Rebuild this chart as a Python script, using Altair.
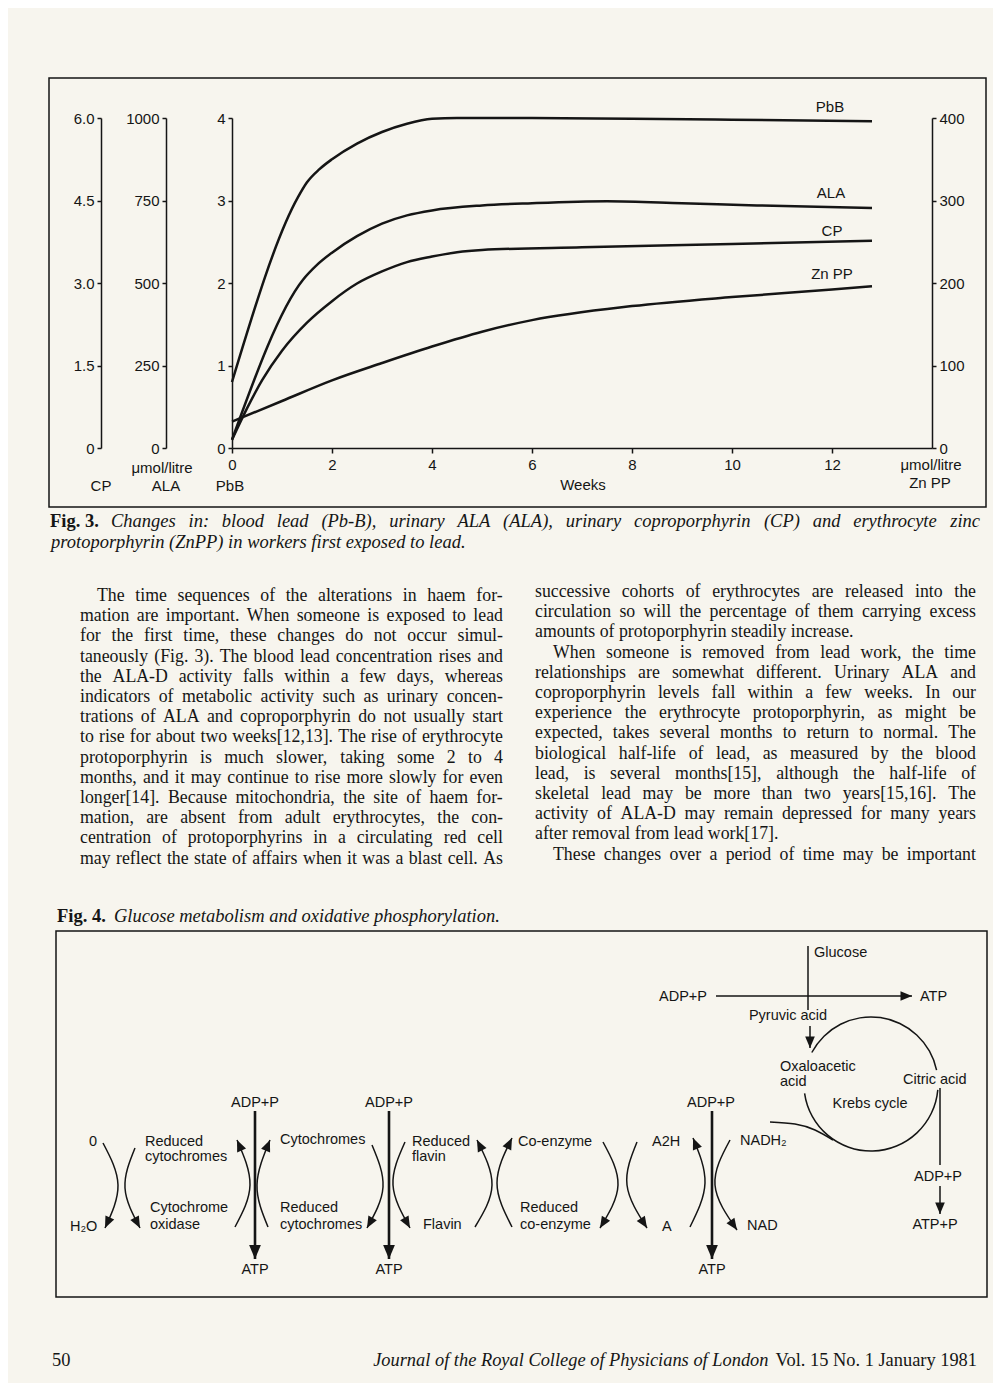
import math
import altair as alt
import pandas as pd

INK = "#151515"
BG = "#f7f5ee"
SANS = "Liberation Sans"
SERIF = "Liberation Serif"

# ---------------- Fig. 3 data ----------------
pbb_weeks = [0, 1.32, 1.5, 1.75, 2.0, 2.5, 3.0, 3.5, 4.0, 4.5, 6, 8, 10, 12.8]
pbb_vals = [0.8, 3.04, 3.22, 3.38, 3.50, 3.69, 3.83, 3.93, 3.99, 4.0, 4.0, 3.99, 3.98, 3.96]   # PbB axis units

ala_weeks = [0, 1.42, 1.7, 2.0, 2.5, 3.0, 3.5, 4.0, 5.0, 6.0, 7.5, 9.0, 10.5, 12.8]
ala_vals = [25, 510, 555, 592, 642, 680, 705, 720, 735, 742, 748, 742, 735, 727]            # umol/litre

cp_weeks = [0, 0.3, 0.6, 1.0, 1.5, 2.0, 2.5, 3.0, 3.5, 4.0, 4.5, 5.0, 7.0, 10.0, 12.8]
cp_vals = [0.15, 0.72, 1.23, 1.77, 2.28, 2.67, 2.99, 3.21, 3.38, 3.48, 3.56, 3.6, 3.65, 3.71, 3.77]

znpp_weeks = [0, 1, 2, 3, 4, 5, 6, 8, 10, 12, 12.8]
znpp_vals = [32, 57, 82, 103, 123, 141, 155, 172, 183, 192, 196]                            # umol/litre

week_ticks = [0, 2, 4, 6, 8, 10, 12]
pbb_ticks = [0, 1, 2, 3, 4]
ala_ticks = [0, 250, 500, 750, 1000]
cp_ticks = [0, 1.5, 3.0, 4.5, 6.0]
znpp_ticks = [0, 100, 200, 300, 400]

series_names = ["PbB", "ALA", "CP", "Zn PP"]

# ---------------- page text ----------------
caption3_line1 = "Changes in: blood lead (Pb-B), urinary ALA (ALA), urinary coproporphyrin (CP) and erythrocyte zinc"
caption3_line2 = "protoporphyrin (ZnPP) in workers first exposed to lead."
caption4 = "Glucose metabolism and oxidative phosphorylation."
footer_italic = "Journal of the Royal College of Physicians of London"
footer_roman = "Vol. 15 No. 1 January 1981"

left_lines = [
    "The time sequences of the alterations in haem for-",
    "mation are important. When someone is exposed to lead",
    "for the first time, these changes do not occur simul-",
    "taneously (Fig. 3). The blood lead concentration rises and",
    "the ALA-D activity falls within a few days, whereas",
    "indicators of metabolic activity such as urinary concen-",
    "trations of ALA and coproporphyrin do not usually start",
    "to rise for about two weeks[12,13]. The rise of erythrocyte",
    "protoporphyrin is much slower, taking some 2 to 4",
    "months, and it may continue to rise more slowly for even",
    "longer[14]. Because mitochondria, the site of haem for-",
    "mation, are absent from adult erythrocytes, the con-",
    "centration of protoporphyrins in a circulating red cell",
    "may reflect the state of affairs when it was a blast cell. As",
]
right_lines = [
    "successive cohorts of erythrocytes are released into the",
    "circulation so will the percentage of them carrying excess",
    "amounts of protoporphyrin steadily increase.",
    "When someone is removed from lead work, the time",
    "relationships are somewhat different. Urinary ALA and",
    "coproporphyrin levels fall within a few weeks. In our",
    "experience the erythrocyte protoporphyrin, as might be",
    "expected, takes several months to return to normal. The",
    "biological half-life of lead, as measured by the blood",
    "lead, is several months[15], although the half-life of",
    "skeletal lead may be more than two years[15,16]. The",
    "activity of ALA-D may remain depressed for many years",
    "after removal from lead work[17].",
    "These changes over a period of time may be important",
]

# glyph advance widths (per 1000 em) of the Times-metric Liberation Serif, for justification
TR = dict(zip("abcdefghijklmnopqrstuvwxyz",
              [444, 500, 444, 500, 444, 333, 500, 500, 278, 278, 500, 278, 778, 500, 500, 500, 500, 333, 389, 278, 500, 500, 722, 500, 500, 444]))
TR.update(zip("ABCDEFGHIJKLMNOPQRSTUVWXYZ",
              [722, 667, 667, 722, 611, 556, 722, 722, 333, 389, 722, 611, 889, 722, 722, 556, 722, 667, 556, 611, 722, 722, 944, 722, 722, 611]))
TR.update({c: 500 for c in "0123456789"})
TR.update({" ": 250, ".": 250, ",": 250, ":": 278, ";": 278, "-": 333, "(": 333, ")": 333, "[": 333, "]": 333})
TI = dict(zip("abcdefghijklmnopqrstuvwxyz",
              [500, 500, 444, 500, 444, 278, 500, 500, 278, 278, 444, 278, 722, 500, 500, 500, 500, 389, 389, 278, 500, 444, 667, 444, 444, 389]))
TI.update(zip("ABCDEFGHIJKLMNOPQRSTUVWXYZ",
              [611, 611, 667, 722, 611, 611, 722, 722, 333, 444, 667, 556, 833, 667, 722, 611, 722, 611, 500, 556, 722, 611, 833, 611, 556, 556]))
TI.update({c: 500 for c in "0123456789"})
TI.update({" ": 250, ".": 250, ",": 250, ":": 333, ";": 333, "-": 333, "(": 333, ")": 333, "[": 389, "]": 389})


def tw(s, table, size):
    return sum(table.get(ch, 500) for ch in s) / 1000.0 * size


def justify(line, x0, x1, y, size, table):
    words = line.split(" ")
    ws = [tw(w, table, size) for w in words]
    gap = (x1 - x0 - sum(ws)) / max(1, len(words) - 1)
    rows, x = [], x0
    for w, wd in zip(words, ws):
        rows.append((w, x, y))
        x += wd + gap
    return rows


# ---------------- layout ----------------
W, H = 700, 330
PAD = {"left": 224, "top": 110, "right": 61, "bottom": 935}
PX = alt.Scale(domain=[0, 1001], range=[-232, 769], nice=False, zero=False)
PY = alt.Scale(domain=[0, 1391], range=[-118, 1273], nice=False, zero=False)


def P():
    return dict(x=alt.X("x:Q", scale=PX, axis=None), y=alt.Y("y:Q", scale=PY, axis=None))


def text_layer(rows, font, size, style="normal", weight="normal", align="left"):
    df = pd.DataFrame(rows, columns=["t", "x", "y"])
    return alt.Chart(df).mark_text(
        font=font, fontSize=size, fontStyle=style, fontWeight=weight,
        align=align, baseline="middle", color=INK
    ).encode(text="t:N", **P())


def ax(**kw):
    base = dict(domainColor=INK, tickColor=INK, labelColor=INK, labelFont=SANS,
                labelFontSize=15, domainWidth=1.5, tickWidth=1.5, grid=False,
                title=None, labelFlush=False, labelOverlap=False, tickSize=4, labelPadding=3)
    base.update(kw)
    return alt.Axis(**base)


def series(weeks, vals, ydom, yaxis, xaxis=None):
    df = pd.DataFrame({"week": weeks, "value": vals})
    return alt.Chart(df).mark_line(color=INK, strokeWidth=2.5, interpolate="monotone").encode(
        x=alt.X("week:Q", scale=alt.Scale(domain=[0, 14], nice=False, zero=False), axis=xaxis),
        y=alt.Y("value:Q", scale=alt.Scale(domain=ydom, nice=False, zero=False), axis=yaxis),
    )


layers = []

# the four curves, each on its own axis
layers.append(series(pbb_weeks, pbb_vals, [0, 4],
                     ax(orient="left", values=pbb_ticks, format="d", offset=0),
                     ax(orient="bottom", values=week_ticks, format="d", tickSize=5, labelPadding=4)))
layers.append(series(ala_weeks, ala_vals, [0, 1000], ax(orient="left", values=ala_ticks, format="d", offset=66)))
layers.append(series(cp_weeks, cp_vals, [0, 6],
                     ax(orient="left", values=cp_ticks, offset=131,
                        labelExpr="datum.value == 0 ? '0' : format(datum.value, '.1f')")))
layers.append(series(znpp_weeks, znpp_vals, [0, 400], ax(orient="right", values=znpp_ticks, format="d", offset=0)))

# frames
boxes = pd.DataFrame({"x": [49, 56], "x2": [986, 987], "y": [78, 931], "y2": [507, 1297]})
layers.append(alt.Chart(boxes).mark_rect(filled=False, stroke=INK, strokeWidth=1.5).encode(
    x2="x2:Q", y2="y2:Q", **P()))

# chart annotations
layers.append(text_layer([
    (series_names[0], 830, 107), (series_names[1], 831, 193), (series_names[2], 832, 231),
    (series_names[3], 832, 274),
    ("CP", 101, 486), ("\u03bcmol/litre", 162, 468), ("ALA", 166, 486), ("PbB", 230, 486),
    ("Weeks", 583, 485), ("\u03bcmol/litre", 931, 465), ("Zn PP", 930, 483),
], SANS, 15, align="center"))

# captions
CAP = 18.5
layers.append(text_layer([("Fig. 3.", 50, 521), ("Fig. 4.", 57, 916)], SERIF, CAP, weight="bold"))
cap_rows = justify(caption3_line1, 111, 980, 521, CAP, TI)
cap_rows += [(caption3_line2, 51, 542), (caption4, 114, 916)]
layers.append(text_layer(cap_rows, SERIF, CAP, style="italic"))

# body text (justified columns)
BODY = 17.8
body = []
for i, s in enumerate(left_lines):
    body += justify(s, 97 if i == 0 else 80, 503, 596 + 20.2 * i, BODY, TR)
for i, s in enumerate(right_lines):
    x0 = 553 if i in (3, 13) else 535
    y = 592 + 20.2 * i
    if i in (2, 12):
        body.append((s, x0, y))
    else:
        body += justify(s, x0, 976, y, BODY, TR)
layers.append(text_layer(body, SERIF, BODY))

# footer
FOOT = 18.4
layers.append(text_layer([("50", 52, 1360)], SERIF, FOOT))
layers.append(text_layer([(footer_roman, 977, 1360)], SERIF, FOOT, align="right"))
layers.append(text_layer([(footer_italic, 977 - tw(footer_roman + " ", TR, FOOT), 1360)], SERIF, FOOT,
                         style="italic", align="right"))

# ---------------- Fig. 4 diagram ----------------
DG = 14.5
layers.append(text_layer([
    ("ADP+P", 255, 1103), ("ATP", 255, 1270), ("ADP+P", 389, 1103), ("ATP", 389, 1270),
    ("ADP+P", 711, 1103), ("ATP", 712, 1270), ("Pyruvic acid", 788, 1016), ("Krebs cycle", 870, 1104),
    ("ADP+P", 938, 1177), ("ATP+P", 935, 1225),
], SANS, DG, align="center"))
layers.append(text_layer([
    ("Glucose", 814, 953), ("ADP+P", 659, 997), ("ATP", 920, 997), ("Oxaloacetic", 780, 1067),
    ("acid", 780, 1082), ("Citric acid", 903, 1080), ("A2H", 652, 1142), ("A", 662, 1227),
    ("NADH\u2082", 740, 1141), ("NAD", 747, 1226), ("Reduced", 412, 1142), ("flavin", 412, 1157),
    ("Flavin", 423, 1225), ("Co-enzyme", 518, 1142), ("Reduced", 520, 1208), ("co-enzyme", 520, 1225),
    ("0", 89, 1142), ("H\u2082O", 70, 1227), ("Reduced", 145, 1142), ("cytochromes", 145, 1157),
    ("Cytochrome", 150, 1208), ("oxidase", 150, 1225), ("Cytochromes", 280, 1140),
    ("Reduced", 280, 1208), ("cytochromes", 280, 1225),
], SANS, DG))

HEAD = "M0,0L0.42,1L-0.42,1Z"


def ang(dx, dy):
    return math.degrees(math.atan2(dx, -dy)) % 360


# straight arrows: x1, y1, x2, y2, width, head?
straight = [
    (808, 946, 808, 1010, 1.5, False),
    (716, 996, 912, 996, 1.5, True),
    (810, 1026, 810, 1048, 1.5, True),
    (940, 1088, 940, 1165, 1.5, False),
    (940, 1186, 940, 1214, 1.5, True),
    (255, 1111, 255, 1259, 2.6, True),
    (389, 1111, 389, 1259, 2.6, True),
    (712, 1111, 712, 1259, 2.6, True),
]
for wdt in (1.5, 2.6):
    rows = [s for s in straight if s[4] == wdt]
    df = pd.DataFrame(rows, columns=["x", "y", "x2", "y2", "w", "h"])
    layers.append(alt.Chart(df).mark_rule(color=INK, strokeWidth=wdt).encode(
        x2="x2:Q", y2="y2:Q", **P()))

heads = []
for x1, y1, x2, y2, wdt, h in straight:
    if h:
        heads.append((x2, y2, ang(x2 - x1, y2 - y1), 784 if wdt > 2 else 529))

# curved arrows: start, bulge, end (head at end)
arcs = [
    ((103, 1143), (118, 1185), (105, 1228)),
    ((135, 1148), (125, 1188), (140, 1228)),
    ((235, 1227), (250, 1185), (237, 1140)),
    ((268, 1227), (257, 1185), (270, 1140)),
    ((372, 1145), (383, 1187), (367, 1228)),
    ((405, 1142), (393, 1185), (410, 1228)),
    ((475, 1227), (492, 1185), (477, 1140)),
    ((512, 1227), (497, 1183), (512, 1138)),
    ((603, 1142), (618, 1185), (600, 1228)),
    ((637, 1142), (627, 1185), (647, 1228)),
    ((690, 1227), (705, 1183), (693, 1138)),
    ((730, 1140), (715, 1185), (737, 1230)),
]
arc_rows = []
for k, (a, b, c) in enumerate(arcs):
    for i, p in enumerate((a, b, c)):
        arc_rows.append((k, i, p[0], p[1]))
    dx = (c[0] - b[0]) + (a[0] - 2 * b[0] + c[0]) / 4
    dy = (c[1] - b[1]) + (a[1] - 2 * b[1] + c[1]) / 4
    heads.append((c[0], c[1], ang(dx, dy), 529))
# joining curve into the Krebs cycle
for i, p in enumerate([(770, 1122), (795, 1124), (815, 1130), (833, 1140)]):
    arc_rows.append((99, i, p[0], p[1]))
arc_df = pd.DataFrame(arc_rows, columns=["id", "i", "x", "y"])
layers.append(alt.Chart(arc_df).mark_line(color=INK, strokeWidth=1.5, interpolate="natural").encode(
    detail="id:N", order="i:Q", **P()))

head_df = pd.DataFrame(heads, columns=["x", "y", "a", "s"])
layers.append(alt.Chart(head_df).mark_point(shape=HEAD, filled=True, color=INK, opacity=1, strokeWidth=0).encode(
    angle=alt.Angle("a:Q", scale=None), size=alt.Size("s:Q", scale=None), **P()))

# Krebs cycle circle (two segments with gaps for the labels)
krebs = pd.DataFrame({"x": [871], "y": [1084]})
for t1, t2 in ((298, 438), (95, 262)):
    layers.append(alt.Chart(krebs).mark_arc(radius=67.8, radius2=66.3, theta=math.radians(t1),
                                            theta2=math.radians(t2), color=INK).encode(**P()))

chart = alt.layer(*layers).resolve_scale(x="independent", y="independent").properties(
    width=W, height=H, padding=PAD, autosize=alt.AutoSizeParams(type="none"), background=BG
).configure_view(stroke=None)

chart.save("out.html", embed_options={"renderer": "svg", "actions": False})
